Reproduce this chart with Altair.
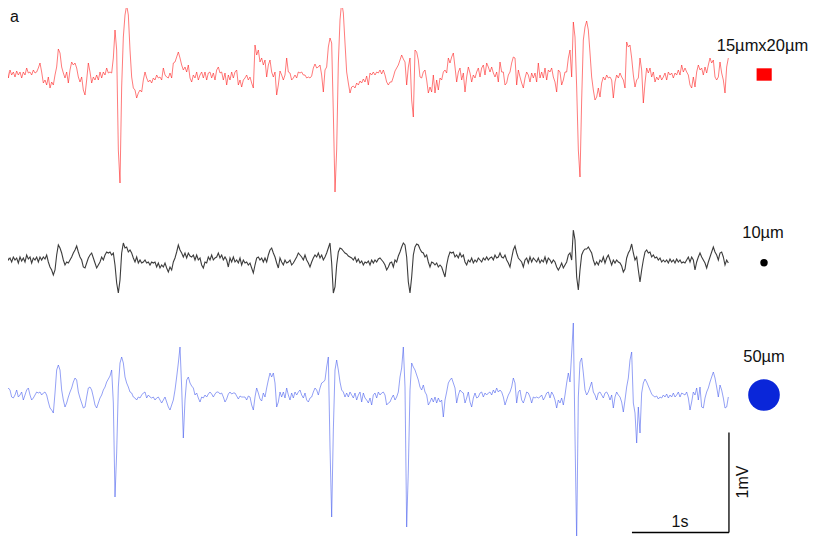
import altair as alt
import pandas as pd

# ---- traces: deflection in mV from each trace's baseline,
# ---- one sample every 1/58.2 s
red_mv = [
    -0.03, -0.05, 0.15, 0.03, 0.12, -0.03, 0.05, 0.00, 0.03, -0.02,
    0.04, 0.00, 0.03, -0.03, 0.03, 0.00, 0.07, 0.02, 0.03, 0.00,
    0.05, 0.02, 0.03, 0.07, 0.12, 0.03, -0.08, -0.05, -0.10, -0.02,
    -0.13, -0.07, -0.10, 0.00, 0.08, 0.26, 0.22, 0.08, 0.02, -0.03,
    0.03, -0.08, 0.05, 0.13, 0.10, 0.12, 0.07, -0.02, -0.07, -0.02,
    -0.15, -0.20, -0.05, 0.12, 0.03, -0.08, -0.02, -0.05, 0.00, -0.05,
    0.03, -0.03, 0.03, 0.00, 0.07, 0.02, 0.03, 0.02, 0.17, 0.45,
    0.25, -0.75, -1.08, -0.12, 0.38, 0.60, 0.70, 0.60, 0.25, -0.02,
    -0.13, -0.15, -0.23, -0.18, -0.15, -0.17, -0.05, 0.03, -0.03, -0.07,
    -0.05, -0.08, -0.03, -0.05, 0.00, -0.03, -0.02, -0.05, 0.07, 0.00,
    -0.02, -0.03, 0.02, -0.03, 0.12, 0.13, 0.18, 0.23, 0.17, 0.10,
    0.05, 0.08, 0.03, 0.10, -0.03, -0.07, 0.00, -0.03, 0.03, -0.05,
    0.00, 0.03, -0.03, 0.03, -0.05, 0.02, 0.03, -0.03, 0.02, -0.05,
    0.05, 0.08, 0.02, 0.03, -0.05, 0.02, -0.10, 0.00, -0.05, 0.03,
    -0.03, 0.03, 0.05, -0.10, -0.05, -0.12, -0.05, -0.03, 0.00, -0.05,
    -0.02, -0.08, -0.13, 0.30, 0.20, 0.25, 0.13, 0.17, 0.10, 0.15,
    -0.02, 0.10, 0.15, 0.03, -0.02, 0.03, -0.20, -0.10,
    0.04, 0.00, -0.05, 0.00, 0.17, 0.03, 0.02, -0.05, -0.03, 0.00,
    -0.03, 0.03, 0.02, 0.03, 0.00, 0.00, -0.03, -0.02, -0.03, -0.01,
    0.07, 0.11, 0.07, 0.08, 0.10, 0.00, -0.17, 0.05, 0.08, 0.28,
    0.37, 0.32, -0.38, -1.17, -0.75, 0.12, 0.55, 0.73, 0.62, 0.32,
    0.03, -0.08, -0.18, -0.12, -0.11, -0.13, -0.08, -0.10, -0.06, -0.08,
    -0.04, -0.07, -0.01, -0.10, 0.02, 0.00, 0.03, 0.00, 0.03, 0.02,
    0.05, 0.01, 0.05, 0.00, -0.07, -0.10, -0.07, -0.07, -0.02, 0.04,
    0.07, 0.10, 0.15, 0.20, 0.16, 0.13, -0.10, 0.08, 0.17, -0.25,
    -0.42, 0.25, 0.23, 0.15, -0.02, -0.03, 0.03, 0.05, -0.05, -0.18,
    -0.12, -0.17, 0.00, -0.18, -0.05, -0.15, -0.03, -0.05, 0.03, 0.05,
    0.02, 0.17, 0.12, 0.18, 0.22, 0.08, -0.07, 0.03, 0.07, -0.05,
    0.02, -0.17, -0.02, 0.08, 0.02, -0.07, 0.00, -0.03, 0.03, 0.07,
    -0.02, 0.07, 0.10, 0.00, 0.12, 0.08, 0.03, 0.08, 0.02, -0.02,
    0.03, -0.07, 0.13, 0.03, 0.03, -0.10, -0.08, 0.00, 0.03, 0.12,
    0.18, 0.17, -0.10, 0.05, -0.02, -0.08, -0.13, -0.03, 0.03, 0.00,
    -0.07, 0.02, -0.03, 0.02, -0.07, 0.12, -0.03, 0.03, -0.03, 0.07,
    -0.05, 0.05,
    0.03, 0.07, -0.02, -0.07, -0.17, 0.05, 0.03, -0.10, -0.05, 0.03,
    0.03, 0.17, 0.25, -0.02, 0.53, 0.38, -0.12, -0.75, -1.02, -0.25,
    0.35, 0.48, 0.54, 0.45, 0.22, -0.02, -0.15, -0.25, -0.22, -0.13,
    -0.22, -0.08, -0.02, -0.05, 0.00, -0.03, -0.02, -0.05, -0.23, -0.07,
    0.00, -0.03, 0.02, -0.02, -0.05, -0.13, 0.33, 0.28, 0.30, 0.17,
    0.00, -0.12, -0.05, -0.03, 0.17, 0.05, -0.28, -0.08, 0.07, 0.02,
    0.07, -0.02, 0.03, -0.07, -0.02, -0.05, 0.00, -0.05, -0.02, 0.02,
    -0.05, 0.03, 0.00, 0.02, -0.03, 0.02, 0.00, 0.05, 0.00, 0.10,
    0.03, 0.07, 0.03, 0.00, -0.10, -0.13, -0.02, -0.12, 0.03, 0.10,
    0.05, 0.07, 0.00, 0.08, 0.02, 0.10, 0.17, 0.12, 0.15, -0.02,
    -0.05, -0.02, 0.13, 0.02, -0.05, -0.18, 0.08, 0.17,
]

black_mv = [
    0.00, -0.02, 0.03, -0.02, 0.05, 0.00, 0.02, -0.02, 0.03, 0.00,
    0.02, -0.03, 0.03, -0.01, 0.02, -0.02, 0.05, 0.01, 0.03, -0.03,
    0.02, 0.00, 0.03, -0.02, 0.03, 0.00, 0.03, 0.01, 0.05, -0.02,
    -0.07, -0.10, -0.15, -0.10, 0.05, 0.15, 0.12, 0.07, 0.00, -0.05,
    -0.02, -0.03, 0.00, 0.03, 0.07, 0.10, 0.14, 0.08, 0.03, 0.00,
    -0.07, -0.08, -0.03, 0.02, 0.05, 0.07, 0.02, -0.03, -0.08, -0.05,
    -0.02, 0.03, 0.00, 0.05, 0.08, 0.07, 0.08, 0.05, 0.07, -0.05,
    -0.23, -0.33, -0.20, 0.07, 0.17, 0.12, 0.13, 0.08, 0.10, 0.07,
    0.02, -0.02, 0.03, -0.03, 0.00, -0.03, -0.02, 0.00, -0.03, -0.02,
    -0.05, -0.02, -0.03, -0.02, -0.07, -0.03, -0.08, -0.05, -0.07, -0.03,
    -0.08, -0.12, -0.07, -0.10, -0.02, 0.02, 0.08, 0.15, 0.10, 0.07,
    0.03, 0.07, 0.02, 0.07, 0.04, 0.03, 0.05, 0.00, 0.05, 0.00,
    0.02, -0.05, -0.08, -0.02, -0.03, 0.03, 0.00, 0.05, 0.00, 0.02,
    0.03, 0.07, 0.02, 0.05, 0.00, 0.03, 0.00, -0.07, 0.02, -0.02,
    0.03, -0.02, 0.00, -0.03, 0.02, -0.05, 0.00, -0.03, -0.02, -0.05,
    -0.03, -0.08, -0.13, -0.05, 0.02, 0.03, 0.00, 0.02, -0.02, 0.02,
    -0.02, 0.05, 0.10, 0.12, 0.07, 0.03, -0.03, -0.08,
    0.02, -0.02, -0.05, 0.00, -0.03, -0.02, 0.00, -0.05, -0.03, 0.00,
    0.03, 0.07, 0.05, 0.03, 0.00, 0.05, 0.00, -0.03, -0.07, -0.02,
    0.02, 0.05, 0.03, 0.07, 0.02, 0.05, 0.00, 0.03, 0.07, 0.12,
    0.17, -0.03, -0.33, -0.27, -0.05, 0.08, 0.12, 0.11, 0.09, 0.07,
    0.06, 0.04, 0.03, 0.02, 0.00, 0.03, -0.02, 0.01, -0.03, -0.01,
    -0.05, -0.02, -0.03, -0.01, -0.05, 0.00, -0.03, 0.00, -0.02, 0.01,
    0.02, 0.00, -0.02, -0.05, -0.10, -0.07, -0.03, -0.02, -0.07, 0.00,
    -0.02, 0.04, 0.08, 0.13, 0.17, 0.15, 0.03, -0.22, -0.33, -0.17,
    0.05, 0.13, 0.16, 0.15, 0.11, 0.08, 0.07, 0.03, 0.05, -0.02,
    -0.07, -0.02, -0.03, -0.05, -0.03, -0.07, -0.05, -0.07, -0.12, -0.17,
    -0.05, 0.03, 0.08, 0.07, 0.08, 0.03, 0.05, 0.02, 0.07, 0.03,
    0.05, -0.02, -0.05, 0.00, -0.02, 0.02, -0.03, 0.00, -0.02, 0.02,
    0.00, -0.02, 0.02, 0.00, 0.03, 0.00, 0.02, 0.03, 0.00, 0.05,
    0.02, 0.03, 0.07, 0.03, 0.02, 0.05, 0.00, -0.03, -0.07, 0.02,
    0.10, 0.14, 0.07, 0.02, 0.00, -0.02, -0.07, 0.00, 0.02, -0.03,
    0.03, -0.02, 0.02, 0.00, -0.02, 0.02, -0.03, 0.00, -0.02, 0.03,
    -0.03, 0.02,
    0.00, -0.03, 0.00, -0.02, -0.07, -0.10, -0.07, -0.03, -0.08, -0.05,
    -0.02, 0.05, 0.07, 0.00, 0.30, 0.20, -0.17, -0.30, -0.10, 0.05,
    0.09, 0.11, 0.11, 0.13, 0.10, 0.07, 0.00, -0.05, -0.02, -0.05,
    0.00, -0.02, 0.03, -0.03, 0.02, 0.05, 0.00, -0.05, 0.00, -0.03,
    0.00, -0.02, -0.03, -0.06, -0.12, -0.09, 0.02, 0.07, 0.10, 0.16,
    0.07, 0.00, 0.03, -0.10, -0.22, -0.10, 0.00, 0.08, 0.10, 0.07,
    0.08, 0.03, 0.05, 0.02, 0.03, 0.00, 0.02, -0.02, 0.00, -0.02,
    0.00, -0.03, 0.01, -0.02, 0.00, -0.03, 0.01, -0.02, 0.00, -0.03,
    -0.02, -0.03, 0.00, 0.03, -0.02, 0.03, 0.00, -0.10, -0.02, 0.03,
    0.07, 0.03, 0.00, -0.03, -0.08, -0.02, 0.03, 0.08, 0.13, 0.08,
    0.05, 0.00, 0.07, 0.08, 0.03, -0.05, 0.00, -0.03,
]

blue_mv = [
    0.02, 0.03, 0.00, -0.05, 0.05, 0.07, 0.05, -0.02, -0.03, 0.00,
    0.05, -0.02, 0.00, 0.03, -0.05, 0.00, 0.05, 0.07, 0.00, -0.05,
    -0.03, 0.00, 0.03, 0.02, 0.03, 0.00, 0.02, 0.03, 0.00, -0.07,
    -0.13, -0.15, -0.18, 0.02, 0.25, 0.30, 0.25, 0.05, -0.05, -0.12,
    -0.08, -0.02, 0.03, 0.07, 0.13, 0.17, 0.15, 0.03, -0.03, -0.08,
    -0.13, -0.12, -0.02, 0.07, 0.08, 0.05, -0.02, -0.10, -0.13, -0.08,
    -0.03, 0.00, 0.05, 0.08, 0.13, 0.16, 0.19, 0.25, -0.08, -1.02,
    -0.58, 0.08, 0.32, 0.38, 0.32, 0.18, 0.12, 0.08, 0.03, 0.02,
    -0.02, -0.03, -0.05, -0.02, -0.03, 0.00, 0.02, 0.03, -0.03, 0.00,
    -0.02, -0.03, -0.02, -0.05, -0.03, -0.02, -0.05, -0.08, -0.05, -0.02,
    -0.07, -0.12, -0.15, -0.10, -0.05, 0.05, 0.18, 0.32, 0.48, 0.08,
    -0.43, -0.05, 0.15, 0.18, 0.12, 0.09, 0.07, 0.00, 0.02, -0.03,
    -0.07, -0.02, -0.03, 0.00, -0.02, 0.01, 0.03, 0.01, -0.02, 0.01,
    0.03, 0.03, 0.01, 0.02, -0.02, -0.07, -0.04, 0.01, 0.03, 0.01,
    0.02, 0.02, -0.01, -0.04, -0.01, -0.02, -0.02, -0.02, -0.05, -0.01,
    -0.02, -0.10, -0.15, -0.02, 0.07, 0.02, -0.04, -0.06, 0.02, -0.02,
    0.07, 0.15, 0.22, 0.18, 0.22, 0.12, -0.12, -0.07,
    0.03, -0.02, 0.03, -0.03, 0.07, 0.00, -0.05, 0.02, -0.03, 0.03,
    0.00, 0.03, 0.05, 0.00, -0.03, 0.02, -0.05, -0.07, -0.03, -0.02,
    0.03, 0.07, 0.05, 0.00, 0.07, 0.12, 0.13, 0.15, 0.28, 0.38,
    -0.52, -1.22, -0.35, 0.25, 0.35, 0.25, 0.13, 0.05, 0.03, -0.02,
    0.02, -0.02, 0.03, 0.00, -0.03, 0.02, -0.05, 0.00, 0.03, -0.07,
    0.02, -0.03, -0.05, -0.08, -0.03, -0.10, 0.00, 0.02, -0.03, 0.03,
    0.00, 0.02, 0.03, 0.00, -0.10, -0.08, -0.07, -0.03, 0.00, -0.05,
    -0.02, 0.03, 0.18, 0.27, 0.48, 0.08, -1.32, -0.75, 0.05, 0.32,
    0.28, 0.25, 0.20, 0.15, 0.08, 0.05, 0.10, 0.03, 0.00, -0.10,
    -0.07, -0.03, -0.07, -0.02, -0.08, -0.03, -0.07, -0.05, -0.22, -0.05,
    0.03, 0.12, 0.15, 0.17, 0.12, 0.07, -0.08, 0.00, 0.05, 0.03,
    0.02, -0.08, -0.03, 0.03, -0.07, -0.12, -0.03, 0.02, -0.03, -0.02,
    0.02, 0.03, -0.02, 0.02, 0.00, 0.02, 0.03, 0.00, 0.05, 0.02,
    0.07, 0.03, 0.05, 0.03, -0.02, -0.10, -0.05, 0.00, 0.03, 0.08,
    0.17, 0.12, -0.08, 0.03, 0.05, -0.05, -0.08, -0.03, 0.03, 0.02,
    -0.02, -0.08, -0.02, -0.03, -0.02, -0.03, -0.02, 0.00, -0.05, -0.02,
    0.02, 0.03,
    -0.03, 0.03, 0.00, -0.05, -0.13, -0.05, -0.08, -0.03, -0.10, 0.00,
    0.12, 0.22, 0.13, 0.42, 0.72, -0.42, -1.45, -0.02, 0.33, 0.37,
    0.22, 0.05, 0.00, 0.03, 0.08, 0.13, 0.03, 0.00, -0.05, 0.02,
    0.03, 0.00, -0.03, 0.02, 0.03, 0.00, -0.05, 0.00, -0.13, -0.02,
    0.03, 0.00, -0.02, -0.07, -0.17, -0.05, 0.08, 0.17, 0.35, 0.43,
    -0.08, -0.18, -0.48, -0.12, -0.38, 0.02, 0.12, 0.16, 0.13, 0.09,
    0.05, 0.01, -0.01, -0.02, -0.01, -0.04, -0.02, -0.03, 0.00, -0.02,
    0.01, -0.03, 0.00, -0.02, 0.02, -0.02, 0.00, 0.03, -0.02, 0.02,
    0.01, 0.00, 0.03, -0.03, -0.15, -0.07, 0.03, 0.00, 0.07, -0.05,
    0.08, -0.12, -0.13, -0.03, 0.03, 0.07, 0.13, 0.18, 0.23, 0.17,
    0.08, -0.02, 0.10, 0.05, -0.03, -0.13, -0.12, -0.02,
]

sample_rate = 58.2  # samples per second
series_names = ["15µmx20µm", "10µm", "50µm"]
line_colors = ["#ff2020", "#1a1a1a", "#4a60ee"]
line_widths = [0.7, 1.1, 0.7]
marker_colors = ["#ff0000", "#000000", "#0a26d9"]
trace_values = [red_mv, black_mv, blue_mv]

# ---- layout (plot coordinates in seconds / mV) ----
W, H = 814, 528
PX_PER_S, PX_PER_MV = 97.0, 100.0
baselines = [4.61, 2.76, 1.41]

xs = alt.Scale(domain=[8 / PX_PER_S, (8 + W) / PX_PER_S], nice=False, zero=False)
ys = alt.Scale(domain=[0, H / PX_PER_MV], nice=False, zero=False)
X = lambda f: alt.X(f, type="quantitative", scale=xs, axis=None)
Y = lambda f: alt.Y(f, type="quantitative", scale=ys, axis=None)

trace_layers = []
for name, vals, base, col, sw in zip(series_names, trace_values, baselines, line_colors, line_widths):
    df = pd.DataFrame({"t": [i / sample_rate for i in range(len(vals))],
                       "v": [v + base for v in vals]})
    trace_layers.append(
        alt.Chart(df).mark_line(color=col, strokeWidth=sw, opacity=0.85).encode(x=X("t"), y=Y("v"))
    )

# electrode markers
marker_t = 764 / PX_PER_S
rect = alt.Chart(pd.DataFrame([{"t": 7.80, "t2": 7.956, "v": 4.677, "v2": 4.553}])).mark_rect(
    color=marker_colors[0]).encode(x=X("t"), x2="t2", y=Y("v"), y2="v2")
small_dot = alt.Chart(pd.DataFrame([{"t": marker_t, "v": 2.733}])).mark_circle(
    size=55, color=marker_colors[1], opacity=1).encode(x=X("t"), y=Y("v"))
big_dot = alt.Chart(pd.DataFrame([{"t": marker_t, "v": 1.41}])).mark_circle(
    size=1000, color=marker_colors[2], opacity=1).encode(x=X("t"), y=Y("v"))

labels = pd.DataFrame({
    "text": series_names,
    "t": [762.5 / PX_PER_S, 763 / PX_PER_S, 764 / PX_PER_S],
    "v": [4.90, 3.03, 1.79],
})
label_text = alt.Chart(labels).mark_text(
    font="Liberation Sans", fontSize=16.5, align="center", baseline="middle", color="#111111"
).encode(x=X("t"), y=Y("v"), text="text:N")

panel_tag = alt.Chart(pd.DataFrame([{"text": "a", "t": 10.0 / PX_PER_S, "v": 5.28}])).mark_text(
    font="Liberation Sans", fontSize=16, align="left", baseline="top", dy=1, color="#111111"
).encode(x=X("t"), y=Y("v"), text="text:N")

# scale bar: 1 s and 1 mV
bar_t0, bar_v0 = 6.515, 0.035
hbar = alt.Chart(pd.DataFrame([{"t": bar_t0, "t2": bar_t0 + 1.0, "v": bar_v0}])).mark_rule(
    color="#000000", strokeWidth=1.3).encode(x=X("t"), x2="t2", y=Y("v"))
vbar = alt.Chart(pd.DataFrame([{"t": bar_t0 + 1.0, "v": bar_v0, "v2": bar_v0 + 1.0}])).mark_rule(
    color="#000000", strokeWidth=1.3).encode(x=X("t"), y=Y("v"), y2="v2")
s_label = alt.Chart(pd.DataFrame([{"text": "1s", "t": 680 / PX_PER_S, "v": 0.14}])).mark_text(
    font="Liberation Sans", fontSize=16, align="center", baseline="middle", color="#111111"
).encode(x=X("t"), y=Y("v"), text="text:N")
mv_label = alt.Chart(pd.DataFrame([{"text": "1mV", "t": 743 / PX_PER_S, "v": 0.54}])).mark_text(
    font="Liberation Sans", fontSize=16, align="center", baseline="middle", angle=270, color="#111111"
).encode(x=X("t"), y=Y("v"), text="text:N")

chart = alt.layer(
    *trace_layers, rect, small_dot, big_dot, label_text, panel_tag, hbar, vbar, s_label, mv_label
).properties(
    width=W, height=H, padding=0,
    autosize=alt.AutoSizeParams(type="none"),
    background="#ffffff",
).configure_view(stroke=None)

chart.save("out.html", embed_options={"renderer": "svg", "actions": False})
